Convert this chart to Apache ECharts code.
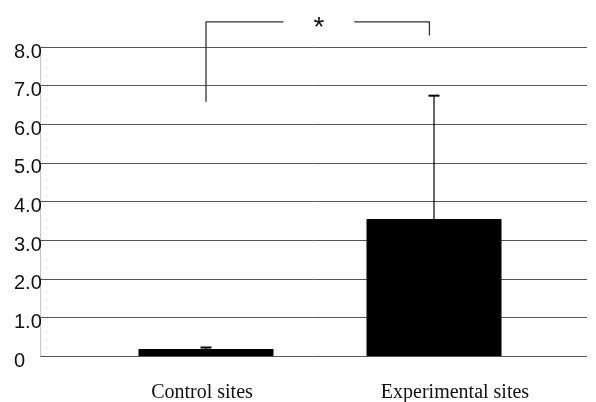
<!DOCTYPE html>
<html>
<head>
<meta charset="utf-8">
<script src="https://cdn.jsdelivr.net/npm/echarts@6/dist/echarts.min.js"></script>
<style>
  html, body { margin: 0; padding: 0; background: #fff; }
  #chart { width: 596px; height: 402px; }
</style>
</head>
<body>
<div id="chart"></div>
<script>
var categories = ['Control sites', 'Experimental sites'];
var means = [0.18, 3.55];
var errors = [0.04, 3.19];
var yTicks = [0, 1, 2, 3, 4, 5, 6, 7, 8];

// significance bracket, x in category units from the control bar
var bracketX = [0, 0.34, 0.65, 0.98];
var bracketTop = 8.65;
var bracketLeftFoot = 6.58;
var bracketRightFoot = 8.3;
var starLabel = '*';

var myChart = echarts.init(document.getElementById('chart'));

var option = {
    backgroundColor: '#fff',
    animation: false,
    grid: [
        { left: 40, right: 9, top: 47, bottom: 46, outerBoundsMode: 'none' },
        { left: 92, right: 48, top: 47, bottom: 46, outerBoundsMode: 'none' }
    ],
    xAxis: [
        { gridIndex: 0, type: 'category', data: [''], show: false },
        {
            gridIndex: 1,
            type: 'category',
            data: categories,
            axisLine: { show: false },
            axisTick: { show: false },
            axisLabel: {
                margin: 27,
                formatter: function (v, i) {
                    return i === 1 ? '{r|' + v + '}' : '{l|' + v + '}';
                },
                rich: {
                    l: { fontFamily: 'Liberation Serif', fontSize: 20, color: '#111', padding: [0, 8, 0, 0] },
                    r: { fontFamily: 'Liberation Serif', fontSize: 20, color: '#111', padding: [0, 0, 0, 42] }
                }
            }
        }
    ],
    yAxis: [
        {
            gridIndex: 0,
            type: 'value',
            min: yTicks[0],
            max: yTicks[yTicks.length - 1],
            interval: 1,
            axisLine: { show: true, lineStyle: { color: '#bbb', type: 'dotted', width: 1 } },
            axisTick: { show: false },
            splitLine: { show: true, lineStyle: { color: '#555', width: 1 } },
            axisLabel: {
                align: 'left',
                margin: 26,
                fontFamily: 'Liberation Sans',
                fontSize: 20,
                color: '#111',
                verticalAlign: 'top',
                padding: [-5, 0, 0, 0],
                formatter: function (v) { return v === 0 ? '0' : v.toFixed(1); }
            }
        },
        {
            gridIndex: 1,
            type: 'value',
            min: yTicks[0],
            max: yTicks[yTicks.length - 1],
            show: false
        }
    ],
    series: [
        {
            type: 'bar',
            xAxisIndex: 1,
            yAxisIndex: 1,
            data: means,
            barWidth: 135,
            itemStyle: { color: '#000' }
        },
        {
            type: 'custom',
            xAxisIndex: 1,
            yAxisIndex: 1,
            data: means.map(function (m, i) { return [i, m, m + errors[i]]; }),
            renderItem: function (params, api) {
                var base = api.coord([api.value(0), api.value(1)]);
                var top = api.coord([api.value(0), api.value(2)]);
                var cap = 5.5;
                return {
                    type: 'group',
                    children: [
                        { type: 'line', shape: { x1: base[0], y1: base[1], x2: top[0], y2: top[1] }, style: { stroke: '#000', lineWidth: 1.2 } },
                        { type: 'line', shape: { x1: top[0] - cap, y1: top[1], x2: top[0] + cap, y2: top[1] }, style: { stroke: '#000', lineWidth: 2 } }
                    ]
                };
            },
            z: 5
        },
        {
            type: 'custom',
            xAxisIndex: 1,
            yAxisIndex: 1,
            clip: false,
            data: [[0, bracketTop]],
            renderItem: function (params, api) {
                var c0 = api.coord([0, bracketTop]);
                var band = api.size([1, 0])[0];
                var xs = bracketX.map(function (f) { return c0[0] + f * band; });
                var yTop = c0[1];
                var yL = api.coord([0, bracketLeftFoot])[1];
                var yR = api.coord([0, bracketRightFoot])[1];
                var st = { stroke: '#333', lineWidth: 1.3, fill: null };
                return {
                    type: 'group',
                    children: [
                        { type: 'polyline', shape: { points: [[xs[0], yL], [xs[0], yTop], [xs[1], yTop]] }, style: st },
                        { type: 'polyline', shape: { points: [[xs[2], yTop], [xs[3], yTop], [xs[3], yR]] }, style: st },
                        { type: 'text', style: { text: starLabel, x: (xs[1] + xs[2]) / 2, y: yTop + 6, align: 'center', verticalAlign: 'middle', fontSize: 28, fontFamily: 'Liberation Sans', fill: '#111' } }
                    ]
                };
            }
        }
    ]
};

myChart.setOption(option);
window.addEventListener('resize', function () {
    myChart.resize();
});
</script>
</body>
</html>
